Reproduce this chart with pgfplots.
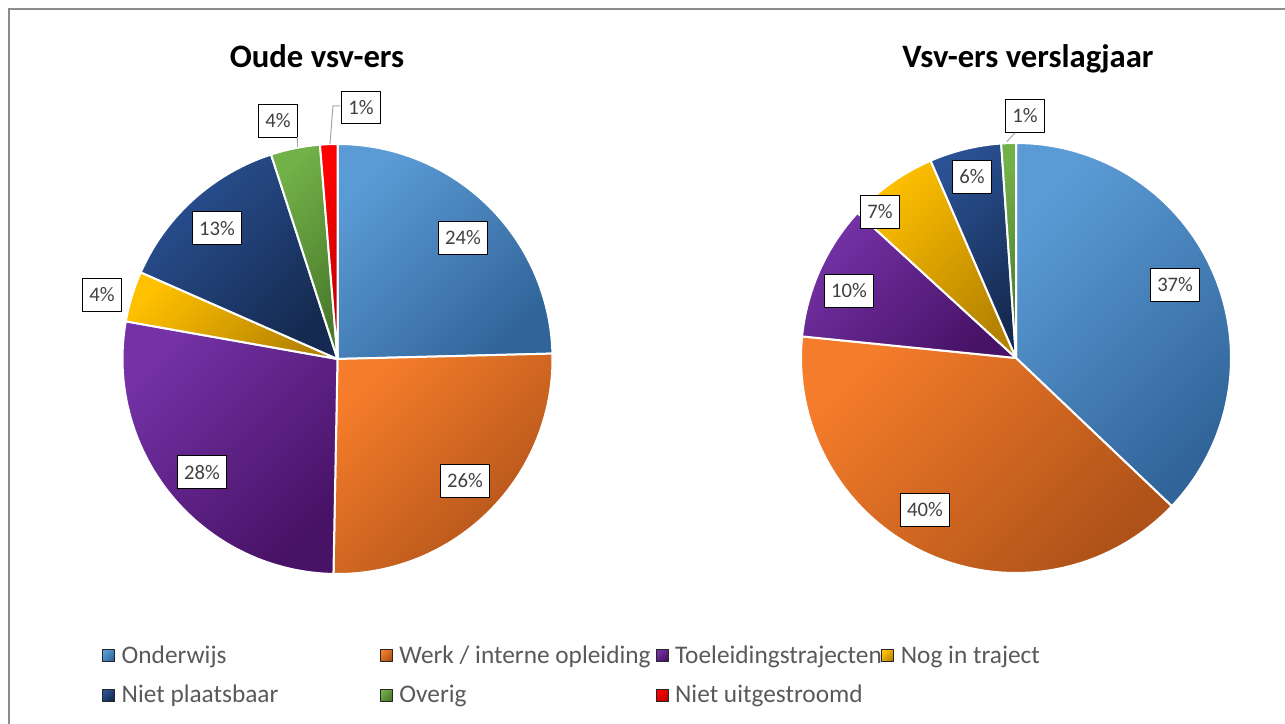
\documentclass[border=0pt]{standalone}
\usepackage{pgfplots}
\pgfplotsset{compat=1.18}
\usepackage{pgfplotstable}
\usepackage{fontspec}
\setmainfont{Carlito}

\definecolor{L0}{HTML}{5B9BD5}\definecolor{D0}{HTML}{31659A}
\definecolor{L1}{HTML}{F47C2A}\definecolor{D1}{HTML}{AE5219}
\definecolor{L2}{HTML}{7432A6}\definecolor{D2}{HTML}{481266}
\definecolor{L3}{HTML}{FFC000}\definecolor{D3}{HTML}{B58300}
\definecolor{L4}{HTML}{2A5193}\definecolor{D4}{HTML}{152A50}
\definecolor{L5}{HTML}{72B048}\definecolor{D5}{HTML}{4A7B2C}
\definecolor{L6}{HTML}{FF0000}\definecolor{D6}{HTML}{BE0000}
\definecolor{lbltext}{HTML}{404040}
\definecolor{legtext}{HTML}{595959}
\definecolor{leader}{HTML}{A6A6A6}
\definecolor{frame}{HTML}{8C8C8C}

% value (percent), label, label position (in radii)
\pgfplotstableread{
value lab lx ly
24.6 24 0.584 0.563
25.7 26 0.593 -0.567
27.5 28 -0.630 -0.526
3.8 4 -1.095 0.298
13.4 13 -0.560 0.609
3.7 4 -0.277 1.107
1.3 1 0.109 1.170
}\oudedata

\pgfplotstableread{
value lab lx ly
37.1 37 0.740 0.340
39.5 40 -0.423 -0.707
10.2 10 -0.777 0.312
6.7 7 -0.633 0.679
5.4 6 -0.205 0.842
1.1 1 0.042 1.126
}\nieuwdata

\newcommand\drawpie[1]{%
  \pgfplotstablegetrowsof{#1}%
  \pgfmathtruncatemacro\nrows{\pgfplotsretval-1}%
  \def\cum{0}%
  \pgfplotsforeachungrouped \i in {0,...,\nrows}{%
    \pgfplotstablegetelem{\i}{value}\of{#1}\let\v\pgfplotsretval
    \pgfmathsetmacro\a{90-3.6*\cum}%
    \pgfmathsetmacro\cum{\cum+\v}%
    \pgfmathsetmacro\b{90-3.6*\cum}%
    \edef\temp{\noexpand\addplot[draw=white, line width=1.5pt, line join=round,
      top color=L\i, bottom color=D\i, shading angle=45,
      domain=\b:\a, samples=90] ({cos(x)},{sin(x)}) -- (axis cs:0,0) -- cycle;}%
    \temp
  }%
  \pgfplotsforeachungrouped \i in {0,...,\nrows}{%
    \pgfplotstablegetelem{\i}{lab}\of{#1}\let\lab\pgfplotsretval
    \pgfplotstablegetelem{\i}{lx}\of{#1}\let\lx\pgfplotsretval
    \pgfplotstablegetelem{\i}{ly}\of{#1}\let\ly\pgfplotsretval
    \edef\temp{\noexpand\node[lbl] at (axis cs:\lx,\ly) {\lab\noexpand\%};}%
    \temp
  }%
}

\pgfplotsset{
  pieaxis/.style={
    anchor=origin, x=161.25pt, y=161.25pt,
    xmin=-1.2, xmax=1.2, ymin=-1.2, ymax=1.2,
    hide axis, clip=false,
  },
}
\tikzset{
  lbl/.style={draw=black, line width=0.6pt, fill=white, text=lbltext,
    font=\fontsize{15.5}{18}\selectfont, inner xsep=5pt, inner ysep=0pt,
    minimum height=24.5pt},
}

\begin{document}
\begin{tikzpicture}
\draw[frame, line width=1.1pt] (6.75pt,-5pt) -- (6.75pt,536.25pt) -- (970pt,536.25pt);

\node[anchor=base, font=\fontsize{24.5}{28}\selectfont\bfseries] at (237.75pt,492.4pt) {Oude vsv-ers};
\node[anchor=base, font=\fontsize{24.5}{28}\selectfont\bfseries] at (771pt,492.4pt) {Vsv-ers verslagjaar};

\begin{axis}[pieaxis, at={(253.125pt,273.75pt)},
  legend columns=4,
  legend image code/.code={\path[#1, draw=black!85, line width=0.6pt] (0pt,-4.5pt) rectangle (9pt,4.5pt);
    \path (11.5pt,0pt);},
  legend style={draw=none, fill=none, at={(0.0436,-0.05)}, anchor=north west,
    font=\fontsize{19}{22}\selectfont, text=legtext, row sep=11pt, column sep=0pt,
    inner sep=0pt},
]
\drawpie{\oudedata}
\draw[leader, line width=0.75pt] (axis cs:-0.188,0.986) -- (axis cs:-0.188,1.033);
\draw[leader, line width=0.75pt] (axis cs:-0.035,1.0) -- (axis cs:-0.021,1.177) -- (axis cs:0.012,1.177);
\legend{\makebox[191.75pt][l]{Onderwijs},
        \makebox[190.25pt][l]{Werk / interne opleiding},
        \makebox[152.75pt][l]{Toeleidingstrajecten},
        Nog in traject,
        \makebox[191.75pt][l]{Niet plaatsbaar},
        \makebox[190.25pt][l]{Overig},
        \makebox[152.75pt][l]{Niet uitgestroomd}}
\end{axis}

\begin{axis}[pieaxis, at={(762pt,274.5pt)}]
\drawpie{\nieuwdata}
\draw[leader, line width=0.75pt] (axis cs:-0.043,1.006) -- (axis cs:-0.005,1.047);
\end{axis}

\pgfresetboundingbox
\useasboundingbox (0,0) rectangle (963.75pt,543pt);
\end{tikzpicture}
\end{document}
